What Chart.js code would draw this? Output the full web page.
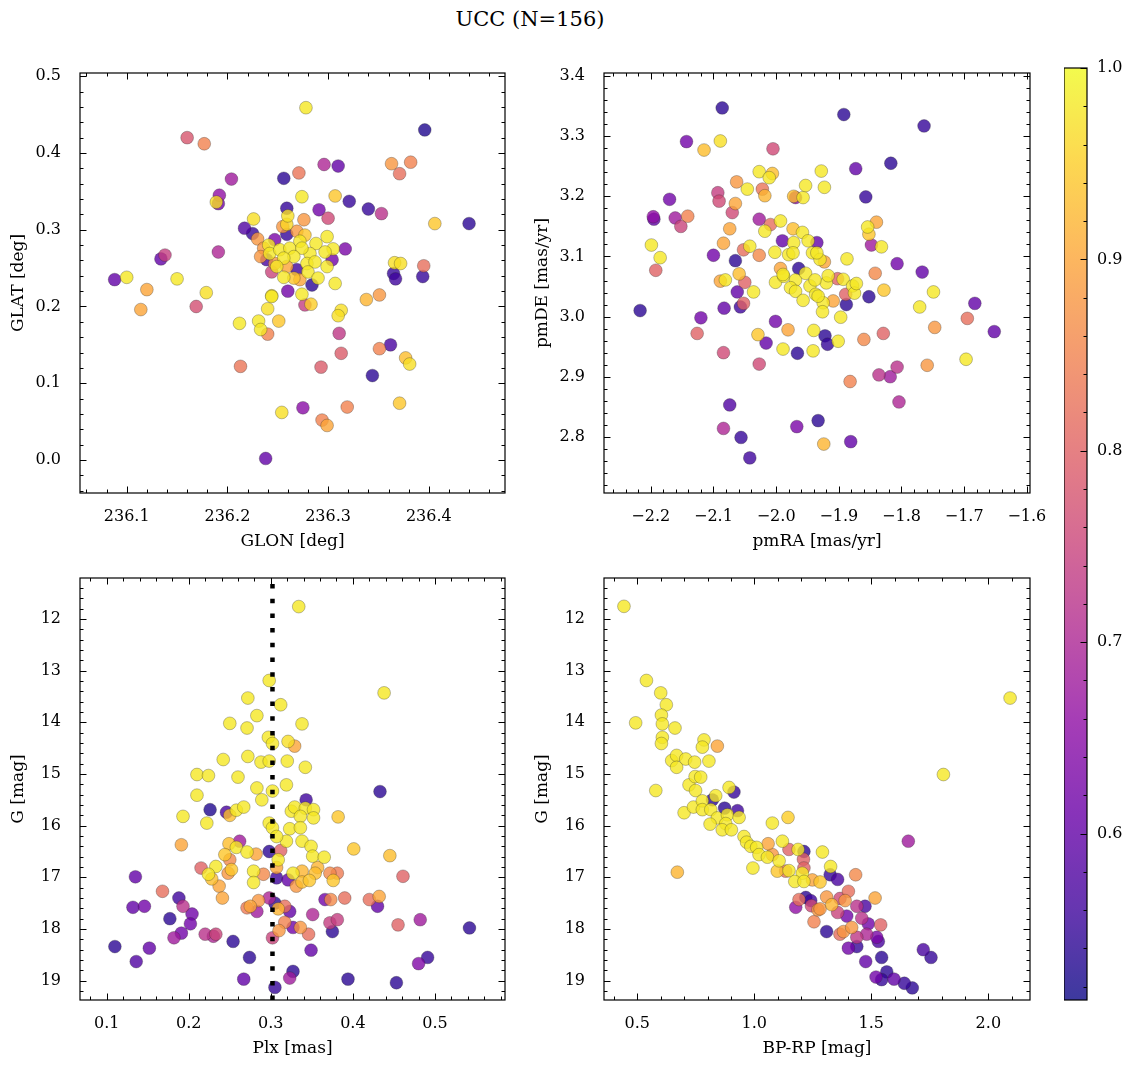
<!DOCTYPE html>
<html><head><meta charset="utf-8"><title>UCC (N=156)</title>
<script src="https://cdn.jsdelivr.net/npm/chart.js@4.4.1/dist/chart.umd.min.js"></script>
<style>
html,body{margin:0;padding:0;background:#fff;}
body{width:1136px;height:1068px;position:relative;overflow:hidden;}
canvas{position:absolute;}
#suptitle{position:absolute;left:0;top:7px;width:1060px;text-align:center;font:21px "DejaVu Serif",serif;color:#000;}
</style></head><body>
<div id="suptitle">UCC (N=156)</div>
<canvas id="p1"></canvas><canvas id="p2"></canvas><canvas id="p3"></canvas><canvas id="p4"></canvas><canvas id="cb"></canvas>
<script>
// ---------------- DATA ----------------
// Panel 1: Galactic position
const glon = [236.160,236.177,236.204,236.256,236.192,236.191,236.189,236.226,236.217,236.225,236.230,236.247,236.259,236.260,236.259,236.255,236.259,236.191,236.138,236.134,236.088,236.100,236.150,236.120,236.114,236.169,236.179,236.244,236.240,236.212,236.231,236.233,236.240,236.251,236.213,236.254,236.238,236.260,
236.278,236.396,236.296,236.310,236.271,236.363,236.382,236.371,236.274,236.307,236.321,236.340,236.353,236.291,236.300,236.276,236.406,236.440,
236.313,236.310,236.311,236.313,236.293,236.338,236.351,236.366,236.372,236.365,236.367,236.395,236.394,236.351,236.362,236.377,236.381,236.344,236.275,236.319,236.294,236.299,236.371,
236.241,236.236,236.242,236.252,236.262,236.272,236.277,236.269,236.288,236.299,236.305,236.317,236.297,236.282,236.274,236.266,236.256,236.247,236.249,236.259,236.269,236.279,236.287,236.299,236.304,236.244,236.256,236.266,236.272,236.280,236.290,236.284,236.307,236.233,236.239,236.274,236.244,236.283,236.277];
const glat = [0.420,0.412,0.366,0.367,0.345,0.334,0.336,0.314,0.302,0.295,0.288,0.287,0.328,0.318,0.307,0.304,0.294,0.271,0.267,0.262,0.235,0.238,0.236,0.222,0.196,0.200,0.218,0.214,0.197,0.178,0.181,0.170,0.164,0.181,0.122,0.062,0.002,0.220,
0.459,0.430,0.385,0.383,0.374,0.386,0.388,0.373,0.343,0.344,0.337,0.327,0.321,0.326,0.315,0.313,0.308,0.308,
0.195,0.188,0.165,0.139,0.121,0.209,0.215,0.257,0.256,0.243,0.236,0.253,0.239,0.145,0.150,0.133,0.125,0.110,0.068,0.069,0.052,0.045,0.074,
0.280,0.276,0.269,0.274,0.276,0.285,0.293,0.298,0.282,0.291,0.275,0.275,0.271,0.269,0.276,0.265,0.263,0.256,0.252,0.252,0.248,0.256,0.258,0.252,0.261,0.245,0.238,0.237,0.235,0.245,0.237,0.228,0.230,0.265,0.261,0.216,0.213,0.203,0.202];
const probPos = [0.78,0.85,0.68,0.54,0.66,0.62,0.97,0.97,0.58,0.55,0.88,0.63,0.55,0.97,0.96,0.88,0.55,0.70,0.74,0.60,0.60,0.98,0.98,0.90,0.90,0.77,0.97,0.97,0.97,0.98,0.98,0.98,0.85,0.94,0.83,0.97,0.60,0.62,
0.98,0.53,0.70,0.60,0.83,0.88,0.85,0.82,0.98,0.94,0.55,0.55,0.72,0.62,0.76,0.88,0.94,0.54,
0.97,0.97,0.73,0.79,0.79,0.92,0.88,0.97,0.97,0.55,0.56,0.82,0.55,0.85,0.57,0.93,0.97,0.54,0.65,0.85,0.85,0.90,0.94,
0.98,0.88,0.98,0.98,0.98,0.98,0.94,0.88,0.98,0.98,0.98,0.63,0.98,0.98,0.98,0.98,0.98,0.88,0.98,0.90,0.56,0.98,0.98,0.98,0.62,0.75,0.98,0.94,0.90,0.98,0.98,0.54,0.98,0.88,0.57,0.98,0.98,0.95,0.74];

// Panel 2: proper motions
const pmra = [-2.086,-2.143,-2.115,-2.089,-2.005,-2.027,-2.006,-2.011,-2.063,-2.046,-2.022,-2.018,-2.093,-2.091,-2.065,-2.070,-2.170,-2.196,-2.195,-2.161,-2.141,-2.152,-2.199,-2.185,-2.192,-2.217,-2.027,-2.018,-2.009,-1.993,-2.074,-2.084,-2.042,-2.052,-2.027,-2.100,-2.065,-1.990,-1.973,-1.958,-1.949,-1.972,-2.002,-1.980,-1.973,-1.942,-1.957,-1.953,-1.972,-1.969,-2.059,-2.050,-2.089,-2.081,-2.036,-2.062,-2.052,-2.057,-2.083,-2.120,-2.126,-2.084,-2.027,-2.029,-2.016,-2.001,-1.981,-1.989,-1.966,-1.941,-1.940,-2.074,-2.084,-2.056,-2.042,-1.967,-2.001,-1.993,-1.988,-1.964,-1.969,-1.953,-1.977,-1.969,-1.957,-1.946,-1.937,
-1.892,-1.764,-1.817,-1.873,-1.928,-1.923,-1.857,-1.840,-1.854,-1.852,-1.848,-1.832,-1.935,-1.887,-1.807,-1.767,-1.842,-1.828,-1.749,-1.771,-1.683,-1.695,-1.652,-1.747,-1.829,-1.860,-1.697,-1.759,-1.807,-1.836,-1.818,-1.804,-1.882,-1.933,-1.881,-1.924,-1.852,-1.888,-1.897,-1.922,-1.918,-1.901,-1.902,-1.893,-1.889,-1.878,-1.875,-1.872,-1.909,-1.925,-1.926,-1.933,-1.920,-1.917,-1.930,-1.923,-1.935,
-1.989,-1.938];
const pmde = [3.347,3.291,3.277,3.292,3.279,3.241,3.238,3.231,3.224,3.212,3.212,3.201,3.206,3.192,3.188,3.173,3.195,3.166,3.162,3.164,3.167,3.150,3.119,3.098,3.077,3.010,3.162,3.142,3.153,3.159,3.146,3.122,3.117,3.111,3.102,3.102,3.093,3.126,3.146,3.140,3.126,3.123,3.107,3.103,3.106,3.106,3.198,3.218,3.200,3.198,3.071,3.057,3.059,3.061,3.041,3.041,3.022,3.016,3.014,2.998,2.972,2.940,2.921,2.970,2.956,2.992,2.978,2.946,2.939,2.943,2.977,2.853,2.814,2.799,2.765,2.817,3.057,3.080,3.067,3.080,3.061,3.072,3.048,3.042,3.027,3.051,3.037,
3.336,3.317,3.255,3.246,3.242,3.215,3.199,3.157,3.149,3.137,3.119,3.116,3.123,3.096,3.088,3.074,3.072,3.044,3.041,3.016,3.022,2.997,2.975,2.982,2.972,2.962,2.929,2.919,2.916,2.903,2.900,2.858,2.892,2.827,2.792,2.788,3.033,3.020,2.999,2.968,2.954,2.959,3.063,3.062,3.037,3.051,3.039,3.055,3.026,3.023,3.008,3.034,3.056,3.068,3.095,3.091,3.106,
3.070,3.061];
const probPm = [0.54,0.62,0.93,0.97,0.76,0.98,0.93,0.98,0.88,0.98,0.83,0.92,0.74,0.76,0.90,0.76,0.62,0.66,0.60,0.68,0.85,0.75,0.98,0.98,0.80,0.54,0.68,0.98,0.82,0.98,0.90,0.90,0.98,0.82,0.86,0.62,0.54,0.60,0.93,0.98,0.98,0.98,0.98,0.98,0.98,0.98,0.98,0.98,0.93,0.65,0.93,0.80,0.90,0.98,0.98,0.60,0.80,0.56,0.60,0.62,0.80,0.76,0.76,0.94,0.60,0.62,0.90,0.98,0.54,0.98,0.98,0.58,0.70,0.55,0.56,0.63,0.98,0.90,0.98,0.54,0.98,0.98,0.98,0.98,0.98,0.98,0.98,
0.54,0.55,0.54,0.60,0.98,0.98,0.55,0.90,0.98,0.94,0.68,0.98,0.60,0.98,0.62,0.60,0.86,0.94,0.98,0.98,0.60,0.82,0.60,0.88,0.80,0.86,0.98,0.88,0.72,0.72,0.68,0.70,0.85,0.54,0.60,0.92,0.54,0.54,0.98,0.54,0.55,0.98,0.80,0.98,0.80,0.98,0.98,0.98,0.90,0.98,0.98,0.98,0.98,0.98,0.98,0.90,0.98,
0.98,0.98];

// Panel 3: parallax vs G
const plx = [0.298,0.312,0.272,0.283,0.250,0.271,0.297,0.302,0.321,0.242,0.272,0.288,0.298,0.320,0.210,0.224,0.260,0.319,0.210,0.283,0.289,0.302,0.226,0.246,0.250,0.258,0.267,0.193,0.222,0.298,0.302,0.323,0.319,0.307,0.325,0.191,0.249,0.262,0.258,0.271,0.282,0.244,0.250,0.298,0.312,0.309,0.307,0.215,0.233,0.224,0.228,0.237,0.248,0.252,0.279,0.279,0.291,0.307,0.321,0.327,0.331,0.135,0.241,0.168,0.188,0.193,0.132,0.146,0.177,0.204,0.202,0.191,0.182,0.220,0.230,0.233,0.110,0.136,0.152,0.254,0.274,0.267,0.275,0.283,0.271,0.285,0.298,0.305,0.309,0.317,0.323,0.317,0.310,0.327,0.302,0.327,0.323,0.305,
0.334,0.438,0.338,0.329,0.342,0.433,0.343,0.329,0.342,0.352,0.336,0.352,0.382,0.336,0.338,0.349,0.351,0.365,0.401,0.445,0.357,0.354,0.338,0.347,0.338,0.372,0.381,0.376,0.461,0.366,0.373,0.390,0.420,0.432,0.430,0.351,0.372,0.381,0.375,0.336,0.346,0.455,0.482,0.542,0.349,0.480,0.491,0.394,0.453];
const gmagPlx = [13.19,13.66,13.53,13.87,14.02,14.11,14.29,14.41,14.37,14.72,14.66,14.77,14.75,14.75,15.01,15.03,15.06,15.21,15.41,15.27,15.50,15.33,15.69,15.74,15.80,15.70,15.64,15.82,15.95,15.95,16.04,16.06,16.30,16.21,15.72,16.37,16.35,16.30,16.42,16.51,16.55,16.56,16.66,16.50,16.48,16.66,16.81,16.82,16.79,16.94,17.03,17.17,16.92,16.85,16.88,17.10,16.94,17.01,17.05,16.92,17.17,16.99,17.40,17.27,17.40,17.56,17.58,17.56,17.80,17.71,17.90,18.08,18.17,18.10,18.14,18.10,18.34,18.63,18.37,18.24,18.55,18.97,17.56,17.66,17.59,17.45,17.40,17.50,17.61,17.56,17.66,17.87,18.03,17.97,18.17,18.82,18.95,19.13,
11.76,13.43,14.03,14.46,14.87,15.34,15.50,15.64,15.66,15.69,15.82,15.85,15.83,16.04,16.30,16.40,16.59,16.61,16.45,16.58,16.81,16.92,16.88,17.06,17.09,16.92,16.92,17.06,16.98,17.43,17.43,17.40,17.43,17.37,17.56,17.72,17.88,17.82,18.05,17.97,18.10,17.92,17.82,17.98,18.41,18.67,18.55,18.97,19.04];
const probPlx = [0.98,0.98,0.98,0.98,0.98,0.98,0.98,0.98,0.97,0.98,0.98,0.98,0.98,0.98,0.98,0.98,0.98,0.98,0.98,0.98,0.98,0.98,0.53,0.57,0.93,0.98,0.98,0.98,0.98,0.98,0.98,0.98,0.98,0.98,0.98,0.90,0.93,0.68,0.98,0.98,0.90,0.94,0.86,0.54,0.80,0.98,0.90,0.80,0.98,0.98,0.93,0.90,0.88,0.94,0.98,0.98,0.86,0.56,0.60,0.98,0.88,0.60,0.90,0.82,0.56,0.72,0.60,0.62,0.54,0.62,0.62,0.62,0.68,0.72,0.70,0.75,0.54,0.58,0.60,0.54,0.54,0.60,0.90,0.68,0.84,0.88,0.70,0.54,0.92,0.82,0.60,0.85,0.88,0.62,0.75,0.54,0.68,0.55,
0.98,0.98,0.98,0.90,0.98,0.54,0.56,0.98,0.98,0.98,0.98,0.98,0.94,0.98,0.98,0.98,0.98,0.98,0.94,0.93,0.92,0.93,0.92,0.94,0.93,0.86,0.84,0.94,0.80,0.62,0.86,0.82,0.82,0.90,0.60,0.70,0.74,0.74,0.54,0.88,0.82,0.80,0.68,0.54,0.60,0.64,0.55,0.54,0.54];
const plxMedian = 0.302;

// Panel 4: colour-magnitude diagram
const bprp = [0.443,0.539,0.493,0.600,0.624,0.603,0.607,0.661,0.607,0.603,0.785,0.778,0.842,0.647,0.668,0.707,0.668,0.745,0.806,0.579,0.721,0.747,0.771,0.749,0.671,0.700,0.740,0.778,0.821,0.835,0.913,0.892,0.778,0.814,0.842,0.811,0.873,0.885,0.928,0.935,0.878,0.863,0.902,0.956,0.967,0.985,1.010,1.020,1.056,0.994,1.077,1.144,1.059,1.120,1.148,1.187,1.212,1.210,1.212,1.077,1.106,1.098,1.134,1.148,1.205,1.173,1.212,1.248,1.220,1.191,1.177,1.241,1.244,1.272,1.255,
2.093,1.808,1.658,1.291,1.326,1.281,1.324,1.356,1.433,1.402,1.309,1.281,1.331,1.366,1.388,1.438,1.473,1.516,1.356,1.395,1.459,1.487,1.540,1.309,1.366,1.381,1.416,1.438,1.480,1.530,1.523,1.402,1.438,1.544,1.476,1.722,1.755,1.520,1.544,1.566,1.597,1.641,1.675];
const gmagCmd = [11.755,13.19,14.01,13.43,13.66,13.86,14.03,14.11,14.29,14.41,14.34,14.48,14.46,14.74,14.64,14.71,14.87,14.77,14.75,15.32,15.21,15.05,15.06,15.32,16.90,15.75,15.64,15.52,15.50,15.42,15.35,15.26,15.69,15.69,15.85,15.97,15.66,15.79,15.71,15.84,15.96,16.08,16.08,16.21,16.32,16.40,16.42,16.56,16.61,16.82,15.95,15.84,16.35,16.30,16.46,16.46,16.50,16.65,16.82,16.56,16.68,16.88,16.88,16.87,16.92,17.08,17.08,17.05,17.39,17.43,17.58,17.45,17.55,17.63,17.86,
13.53,15.01,16.30,16.51,16.79,17.09,16.95,17.04,16.95,17.27,17.38,17.61,17.53,17.41,17.45,17.56,17.56,17.40,17.68,17.75,17.79,17.90,17.92,18.05,18.10,18.05,17.97,18.16,18.10,18.24,18.16,18.37,18.34,18.55,18.63,18.40,18.55,18.93,18.98,18.83,18.97,19.05,19.14];
const probCmd = [0.98,0.98,0.98,0.98,0.98,0.98,0.98,0.98,0.98,0.98,0.98,0.98,0.90,0.98,0.98,0.98,0.98,0.98,0.98,0.98,0.98,0.98,0.98,0.98,0.92,0.98,0.98,0.98,0.54,0.98,0.55,0.98,0.98,0.98,0.98,0.98,0.54,0.98,0.56,0.98,0.98,0.98,0.98,0.98,0.98,0.98,0.98,0.98,0.98,0.98,0.98,0.95,0.90,0.98,0.80,0.98,0.54,0.80,0.80,0.88,0.98,0.94,0.82,0.98,0.98,0.98,0.98,0.90,0.54,0.82,0.66,0.56,0.76,0.88,0.85,
0.98,0.98,0.68,0.98,0.98,0.94,0.55,0.57,0.86,0.82,0.88,0.88,0.92,0.76,0.88,0.72,0.57,0.90,0.75,0.62,0.72,0.62,0.80,0.54,0.82,0.88,0.88,0.73,0.70,0.57,0.63,0.62,0.55,0.54,0.60,0.57,0.55,0.62,0.55,0.54,0.60,0.55,0.54];

// Colour-bar range
const probMin = 0.513, probMax = 1.0;

// ---------------- RENDERING ----------------
const FONT = '"DejaVu Serif", serif';
const TICK_FS = 16, LABEL_FS = 17;
Chart.defaults.font.family = FONT;
Chart.defaults.font.size = TICK_FS;
Chart.defaults.color = '#000';

const plasmaStops = ['#0d0887','#41049d','#6a00a8','#8f0da4','#b12a90','#cc4778','#e16462','#f2844b','#fca636','#fcce25','#f0f921']
  .map(h => [parseInt(h.slice(1,3),16), parseInt(h.slice(3,5),16), parseInt(h.slice(5,7),16)]);
function plasma(t){
  t = Math.max(0, Math.min(1, t));
  const s = t * 10, i = Math.min(9, Math.floor(s)), f = s - i;
  const a = plasmaStops[i], b = plasmaStops[i+1];
  return [0,1,2].map(k => Math.round(a[k] + (b[k]-a[k]) * f));
}
function cmap(v, alpha){
  const c = plasma((v - probMin) / (probMax - probMin));
  return `rgba(${c[0]},${c[1]},${c[2]},${alpha})`;
}
const fmt = (v, d) => (v < -1e-9 ? '\u2212' : '') + Math.abs(v).toFixed(d);

// frame + inward major/minor ticks on chosen sides
const frameTicks = {
  id: 'frameTicks',
  afterDatasetsDraw(chart, args, opts){
    const {ctx, chartArea: ca} = chart;
    ctx.save();
    ctx.strokeStyle = '#000';
    ctx.lineWidth = 1;
    const MAJ = 6.5, MIN = 3.5;
    (opts.axes || []).forEach(ax => {
      const sc = chart.scales[ax.id];
      const horiz = sc.isHorizontal();
      const majors = sc.ticks.map(t => t.value);
      const lo = Math.min(sc.min, sc.max), hi = Math.max(sc.min, sc.max);
      const marks = [];
      majors.forEach(v => marks.push([v, MAJ]));
      const k0 = Math.ceil(lo / ax.minor - 1e-6), k1 = Math.floor(hi / ax.minor + 1e-6);
      for (let k = k0; k <= k1; k++) {
        const v = k * ax.minor;
        if (majors.some(m => Math.abs(m - v) < ax.minor * 0.01)) continue;
        marks.push([v, MIN]);
      }
      ctx.beginPath();
      marks.forEach(([v, len]) => {
        const p = Math.round(sc.getPixelForValue(v)) + 0.5;
        ax.sides.forEach(side => {
          if (horiz) {
            if (side === 'bottom') { ctx.moveTo(p, ca.bottom); ctx.lineTo(p, ca.bottom - len); }
            else { ctx.moveTo(p, ca.top); ctx.lineTo(p, ca.top + len); }
          } else {
            if (side === 'left') { ctx.moveTo(ca.left, p); ctx.lineTo(ca.left + len, p); }
            else { ctx.moveTo(ca.right, p); ctx.lineTo(ca.right - len, p); }
          }
        });
      });
      ctx.stroke();
    });
    ctx.lineWidth = 1.2;
    ctx.strokeRect(ca.left, ca.top, ca.right - ca.left, ca.bottom - ca.top);
    ctx.restore();
  }
};
const cbFill = {
  id: 'cbFill',
  beforeDatasetsDraw(chart, args, opts){
    if (!opts.on) return;
    const {ctx, chartArea: ca} = chart;
    const sc = chart.scales.y;
    const y0 = sc.getPixelForValue(probMin), y1 = sc.getPixelForValue(probMax);
    const g = ctx.createLinearGradient(0, y0, 0, y1);
    for (let k = 0; k <= 50; k++) g.addColorStop(k/50, cmap(probMin + (probMax - probMin) * k / 50, 0.8));
    ctx.save();
    ctx.fillStyle = g;
    ctx.fillRect(ca.left, ca.top, ca.right - ca.left, ca.bottom - ca.top);
    ctx.restore();
  }
};
Chart.register(frameTicks, cbFill);

const YW = 80, XH = 70, PADT = 12, PADR = 30;
function setupCanvas(id, box, yw, xh, padT, padR, padB){
  const c = document.getElementById(id);
  const w = box.R - box.L + yw + padR, h = box.B - box.T + padT + xh + padB;
  c.width = w; c.height = h;
  c.style.left = (box.L - yw) + 'px'; c.style.top = (box.T - padT) + 'px';
  c.style.width = w + 'px'; c.style.height = h + 'px';
  return c;
}

function makePanel(id, box, xs, ys, cs, cfg){
  const canvas = setupCanvas(id, box, YW, XH, PADT, PADR, 0);
  const idx = cs.map((c, i) => i).sort((a, b) => cs[a] - cs[b]);
  const pts = idx.map(i => ({x: xs[i], y: ys[i], c: cs[i]}));
  const datasets = [];
  if (cfg.vline !== undefined) {
    datasets.push({type: 'line', data: [{x: cfg.vline, y: cfg.y.min}, {x: cfg.vline, y: cfg.y.max}],
      borderColor: '#000', borderWidth: 4.5, borderDash: [4.5, 10.2], borderDashOffset: 8.7,
      borderCapStyle: 'butt', pointRadius: 0, fill: false, tension: 0});
  }
  datasets.push({type: 'scatter', data: pts, pointRadius: 6.4, pointBorderWidth: 0.6,
    pointBorderColor: 'rgba(40,40,40,0.5)',
    pointBackgroundColor: ctx => (ctx.raw ? cmap(ctx.raw.c, 0.8) : '#000')});
  const axisOpts = (a, isX) => ({
    type: 'linear', position: isX ? 'bottom' : 'left', min: a.min, max: a.max, reverse: !!a.reverse,
    grid: {display: false, drawTicks: false}, border: {display: false},
    ticks: {stepSize: a.step, includeBounds: false, autoSkip: false, maxRotation: 0, minRotation: 0,
      padding: isX ? 14 : 19, callback: v => fmt(v, a.dec), font: {size: TICK_FS}},
    title: {display: true, text: a.title, font: {size: LABEL_FS}, padding: isX ? {top: 0, bottom: 11} : {top: 8, bottom: 0}},
    afterFit: s => { if (isX) s.height = XH; else s.width = YW; s.paddingLeft = 0; s.paddingRight = 0; s.paddingTop = 0; s.paddingBottom = 0; }
  });
  new Chart(canvas, {
    type: 'scatter',
    data: {datasets},
    options: {
      responsive: false, animation: false, devicePixelRatio: 1, events: [],
      layout: {padding: {top: PADT, right: PADR, left: 0, bottom: 0}},
      plugins: {legend: {display: false}, tooltip: {enabled: false},
        frameTicks: {axes: [{id: 'x', minor: cfg.x.minor, sides: ['bottom', 'top']}, {id: 'y', minor: cfg.y.minor, sides: ['left', 'right']}]},
        cbFill: {on: false}},
      scales: {x: axisOpts(cfg.x, true), y: axisOpts(cfg.y, false)}
    }
  });
}

makePanel('p1', {L: 80, T: 73, R: 505, B: 493}, glon, glat, probPos, {
  x: {min: 236.0536, max: 236.4757, step: 0.1, minor: 0.02, dec: 1, title: 'GLON [deg]'},
  y: {min: -0.0430, max: 0.5042, step: 0.1, minor: 0.02, dec: 1, title: 'GLAT [deg]'}});
makePanel('p2', {L: 604, T: 73, R: 1030, B: 493}, pmra, pmde, probPm, {
  x: {min: -2.2746, max: -1.5950, step: 0.1, minor: 0.02, dec: 1, title: 'pmRA [mas/yr]'},
  y: {min: 2.7066, max: 3.4051, step: 0.1, minor: 0.02, dec: 1, title: 'pmDE [mas/yr]'}});
makePanel('p3', {L: 80, T: 578, R: 505, B: 1000}, plx, gmagPlx, probPlx, {
  vline: plxMedian,
  x: {min: 0.0675, max: 0.5853, step: 0.1, minor: 0.02, dec: 1, title: 'Plx [mas]'},
  y: {min: 11.2065, max: 19.374, step: 1, minor: 0.2, dec: 0, title: 'G [mag]', reverse: true}});
makePanel('p4', {L: 604, T: 578, R: 1030, B: 1000}, bprp, gmagCmd, probCmd, {
  x: {min: 0.3577, max: 2.178, step: 0.5, minor: 0.1, dec: 1, title: 'BP-RP [mag]'},
  y: {min: 11.2065, max: 19.374, step: 1, minor: 0.2, dec: 0, title: 'G [mag]', reverse: true}});

// colour bar
(function(){
  const box = {L: 1064, T: 68, R: 1087, B: 1000};
  const c = document.getElementById('cb');
  const w = box.R - box.L + 60, h = box.B - box.T + 24;
  c.width = w; c.height = h;
  c.style.left = box.L + 'px'; c.style.top = (box.T - 12) + 'px';
  c.style.width = w + 'px'; c.style.height = h + 'px';
  new Chart(c, {
    type: 'scatter',
    data: {datasets: []},
    options: {
      responsive: false, animation: false, devicePixelRatio: 1, events: [],
      layout: {padding: {top: 12, bottom: 12, left: 0, right: 0}},
      plugins: {legend: {display: false}, tooltip: {enabled: false},
        cbFill: {on: true},
        frameTicks: {axes: [{id: 'y', minor: 0.02, sides: ['right']}]}},
      scales: {
        x: {display: false, min: 0, max: 1},
        y: {type: 'linear', position: 'right', min: probMin, max: probMax,
          grid: {display: false, drawTicks: false}, border: {display: false},
          ticks: {stepSize: 0.1, includeBounds: false, autoSkip: false, padding: 10, callback: v => fmt(v, 1), font: {size: TICK_FS}},
          afterFit: s => { s.width = 60; s.paddingTop = 0; s.paddingBottom = 0; }}
      }
    }
  });
})();
</script>
</body></html>
